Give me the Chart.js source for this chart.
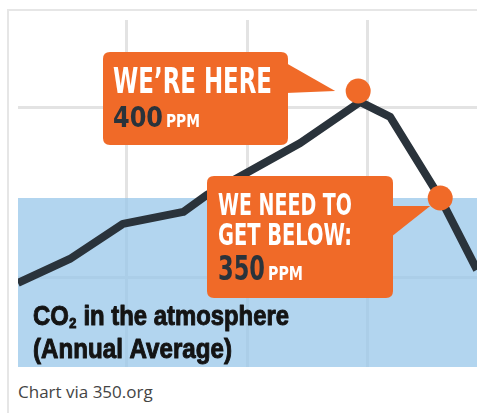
<!DOCTYPE html>
<html>
<head>
<meta charset="utf-8">
<script src="https://cdn.jsdelivr.net/npm/chart.js@4/dist/chart.umd.min.js"></script>
<style>
  html, body { margin: 0; padding: 0; background: #fff; }
  body { width: 477px; height: 413px; position: relative; overflow: hidden; }
  #frame {
    position: absolute; left: 7px; top: 9px; width: 470px; height: 404px;
    border-top: 2px solid #e6e6e6; border-left: 2px solid #e6e6e6;
  }
  #wrap { position: absolute; left: 0; top: 0; width: 477px; height: 370px; }
  #caption {
    position: absolute; left: 18px; top: 382px;
    font: 17px/20px "Open Sans", "DejaVu Sans", sans-serif; color: #444;
    white-space: nowrap;
  }
</style>
</head>
<body>
<div id="frame"></div>
<div id="wrap"><canvas id="chart" width="477" height="370"></canvas></div>
<div id="caption">Chart via 350.org</div>
<script>
// Annual average CO2 (ppm) along the time axis
const years = [1962, 1970.6, 1979.4, 1989.4, 1993.3, 2008.8, 2018.7, 2023.7, 2032.0, 2038.1];
const co2Ppm = [310.3, 321.5, 337.9, 343.5, 351.4, 375.7, 394.9, 387.9, 350.0, 316.4];

// Highlighted levels: where we are now, and the safe target
const markerYears = [2018.4, 2032.0];
const markerPpm = [400, 350];
const targetPpm = 350;

// Grid positions
const gridYears = [1980, 2000, 2020];
const gridPpm = [313, 392.5];

// Callout wording
const calloutHeads = [["WE\u2019RE HERE"], ["WE NEED TO", "GET BELOW:"]];
const unitLabel = "PPM";
const titleLines = ["CO", "2", " in the atmosphere", "(Annual Average)"];

const ORANGE = '#f06a28';
const DARK = '#2a333b';
const NARROW = '"Liberation Sans Narrow", "DejaVu Sans Condensed", "Liberation Sans", sans-serif';
const HEAVY = '"Liberation Sans", Arial, sans-serif';

// Box geometry and type sizes for each callout
const calloutStyle = [
  { box: [103, 52, 288, 145], tip: [-23, 0], base: [63, 93], textX: 113,
    head: { size: 35, width: 159, baselines: [93] },
    value: { size: 28, width: 50, baseline: 127 }, unit: { size: 18, width: 34 } },
  { box: [207, 176, 393, 298], tip: [-10, 8], base: [206, 237], textX: 218,
    head: { size: 31, width: 134, baselines: [215, 245] },
    value: { size: 33, width: 47, baseline: 280 }, unit: { size: 19, width: 35 } }
];

function fitText(ctx, text, x, y, font, width, color, weightStroke) {
  ctx.save();
  ctx.font = font;
  const w = ctx.measureText(text).width;
  ctx.translate(x, y);
  ctx.scale(width / w, 1);
  ctx.fillStyle = color;
  ctx.textBaseline = 'alphabetic';
  ctx.textAlign = 'left';
  ctx.fillText(text, 0, 0);
  if (weightStroke) {
    ctx.strokeStyle = color;
    ctx.lineWidth = weightStroke;
    ctx.lineJoin = 'round';
    ctx.strokeText(text, 0, 0);
  }
  ctx.restore();
}

function roundRect(ctx, x1, y1, x2, y2, r) {
  ctx.beginPath();
  ctx.moveTo(x1 + r, y1);
  ctx.lineTo(x2 - r, y1);
  ctx.quadraticCurveTo(x2, y1, x2, y1 + r);
  ctx.lineTo(x2, y2 - r);
  ctx.quadraticCurveTo(x2, y2, x2 - r, y2);
  ctx.lineTo(x1 + r, y2);
  ctx.quadraticCurveTo(x1, y2, x1, y2 - r);
  ctx.lineTo(x1, y1 + r);
  ctx.quadraticCurveTo(x1, y1, x1 + r, y1);
  ctx.closePath();
}

const calloutPlugin = {
  id: 'callouts',
  afterDatasetDraw(chart, args) {
    if (args.index !== 1) return;
    const ctx = chart.ctx;
    const xs = chart.scales.x, ys = chart.scales.y;
    calloutStyle.forEach((st, i) => {
      const px = xs.getPixelForValue(markerYears[i]);
      const py = ys.getPixelForValue(markerPpm[i]);
      const [x1, y1, x2, y2] = st.box;
      ctx.save();
      ctx.fillStyle = ORANGE;
      roundRect(ctx, x1, y1, x2, y2, 7);
      ctx.fill();
      ctx.beginPath();
      ctx.moveTo(x2 - 2, st.base[0]);
      ctx.lineTo(px + st.tip[0], py + st.tip[1]);
      ctx.lineTo(x2 - 2, st.base[1]);
      ctx.closePath();
      ctx.fill();
      ctx.restore();

      calloutHeads[i].forEach((line, j) => {
        fitText(ctx, line, st.textX, st.head.baselines[j], `bold ${st.head.size}px ${NARROW}`, st.head.width, '#fff');
      });
      fitText(ctx, String(markerPpm[i]), st.textX, st.value.baseline, `bold ${st.value.size}px ${NARROW}`, st.value.width, DARK);
      fitText(ctx, unitLabel, st.textX + st.value.width + 3, st.value.baseline, `bold ${st.unit.size}px ${NARROW}`, st.unit.width, '#fff');
    });
  },
  afterDraw(chart) {
    const ctx = chart.ctx;
    // Two-line title with a subscript 2, slightly emboldened
    const big = `bold 28px ${HEAVY}`, small = `bold 15px ${HEAVY}`;
    ctx.save();
    ctx.font = big;
    const wCO = ctx.measureText(titleLines[0]).width;
    const wRest = ctx.measureText(titleLines[2]).width;
    ctx.font = small;
    const wSub = ctx.measureText(titleLines[1]).width;
    const k = 256 / (wCO + wSub + 1 + wRest);
    ctx.translate(33, 0);
    ctx.scale(k, 1);
    ctx.fillStyle = '#141414';
    ctx.strokeStyle = '#141414';
    ctx.lineWidth = 1;
    ctx.lineJoin = 'round';
    ctx.font = big;
    ctx.fillText(titleLines[0], 0, 325);
    ctx.strokeText(titleLines[0], 0, 325);
    ctx.font = small;
    ctx.fillText(titleLines[1], wCO + 0.5, 328);
    ctx.strokeText(titleLines[1], wCO + 0.5, 328);
    ctx.font = big;
    ctx.fillText(titleLines[2], wCO + wSub + 1, 325);
    ctx.strokeText(titleLines[2], wCO + wSub + 1, 325);
    ctx.restore();
    fitText(ctx, titleLines[3], 33, 358, big, 199, '#141414', 1);
  }
};

new Chart(document.getElementById('chart'), {
  type: 'line',
  data: {
    datasets: [
      {
        label: 'markers',
        data: markerYears.map((x, i) => ({ x, y: markerPpm[i] })),
        showLine: false,
        pointRadius: 12.5,
        pointBackgroundColor: ORANGE,
        pointBorderWidth: 0,
        clip: false
      },
      {
        label: 'CO2',
        data: years.map((x, i) => ({ x, y: co2Ppm[i] })),
        borderColor: DARK,
        borderWidth: 8,
        borderJoinStyle: 'round',
        pointRadius: 0,
        tension: 0,
        fill: false,
        clip: 0
      },
      {
        label: 'target',
        data: [{ x: years[0], y: targetPpm }, { x: years[years.length - 1], y: targetPpm }],
        borderWidth: 0,
        pointRadius: 0,
        fill: 'start',
        backgroundColor: 'rgba(152,199,234,0.75)'
      }
    ]
  },
  options: {
    responsive: false,
    animation: false,
    events: [],
    layout: { autoPadding: false, padding: { left: 18, top: 20, right: 0, bottom: 3 } },
    plugins: { legend: { display: false }, tooltip: { enabled: false } },
    scales: {
      x: {
        type: 'linear',
        min: years[0],
        max: years[years.length - 1],
        afterBuildTicks: s => { s.ticks = gridYears.map(v => ({ value: v })); },
        grid: { color: '#e3e3e3', lineWidth: 3, drawTicks: false },
        border: { display: false },
        ticks: { display: false }
      },
      y: {
        type: 'linear',
        min: 271.0,
        max: 433.2,
        afterBuildTicks: s => { s.ticks = gridPpm.map(v => ({ value: v })); },
        grid: { color: '#e3e3e3', lineWidth: 3, drawTicks: false },
        border: { display: false },
        ticks: { display: false }
      }
    }
  },
  plugins: [calloutPlugin]
});
</script>
</body>
</html>
